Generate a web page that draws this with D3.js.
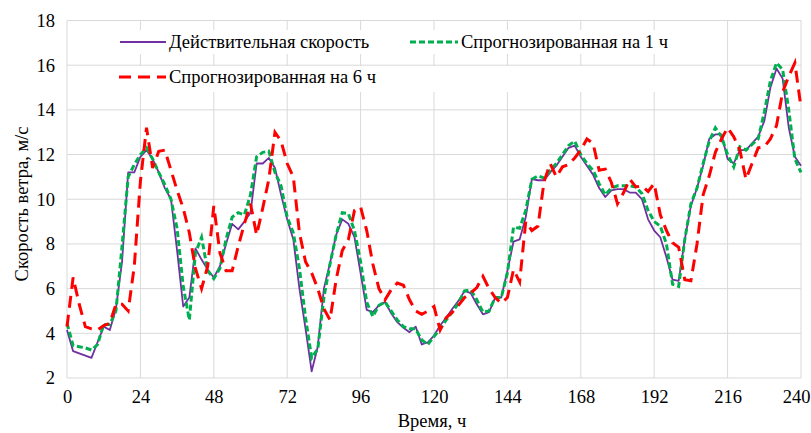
<!DOCTYPE html>
<html>
<head>
<meta charset="utf-8">
<script src="https://cdn.jsdelivr.net/npm/d3@7/dist/d3.min.js"></script>
<style>
  body { margin: 0; background: #fff; }
  svg text { font-family: "Liberation Serif", "Times New Roman", Times, "DejaVu Serif", serif !important; fill: #000; }
</style>
</head>
<body>
<script>
var W = 811, H = 433;
var margin = { top: 20.5, right: 10, bottom: 55, left: 67 };
var w = 734, h = 357.5;
var fontSize = "18.5px";

// hours (every 2 h)
var hours = d3.range(0, 241, 2);
var xTicks = [0, 24, 48, 72, 96, 120, 144, 168, 192, 216, 240];
var yTicks = [2, 4, 6, 8, 10, 12, 14, 16, 18];

// actual wind speed
var actual = [4.15, 3.2, 3.1, 3.0, 2.9, 3.6, 4.3, 4.15, 5.1, 7.2,
  11.2, 11.2, 11.9, 12.2, 11.8, 11.2, 10.5, 10.0, 7.7, 5.2,
  5.6, 7.8, 7.3, 6.85, 6.5, 7.0, 8.0, 8.9, 8.65, 9.0,
  9.4, 11.6, 11.6, 11.85, 11.4, 10.2, 9.1, 8.2, 6.0, 4.2,
  2.3, 3.4, 6.0, 7.15, 8.4, 9.1, 8.9, 8.3, 6.7, 5.05,
  4.95, 5.25, 5.4, 4.9, 4.5, 4.25, 4.05, 4.3, 3.5, 3.6,
  3.9, 4.35, 4.7, 5.1, 5.45, 5.9, 5.8, 5.3, 4.85, 4.95,
  5.6, 5.6, 6.8, 8.1, 8.2, 9.2, 10.9, 10.85, 10.85, 11.2,
  11.5, 11.9, 12.3, 12.4, 11.9, 11.5, 11.1, 10.5, 10.1, 10.4,
  10.45, 10.45, 10.3, 10.3, 10.0, 9.1, 8.6, 8.3, 7.4, 6.4,
  6.35, 8.2, 9.7, 10.5, 11.5, 12.7, 12.9, 12.9, 11.8, 11.6,
  12.2, 12.2, 12.5, 12.8, 13.5, 15.0, 15.85, 15.4, 13.2, 11.9,
  11.5];

// 1 h forecast
var fc1 = [4.45, 3.45, 3.4, 3.35, 3.25, 3.5, 4.4, 4.4, 5.0, 7.9,
  11.0, 11.55, 12.0, 12.3, 11.8, 11.2, 10.65, 10.0, 8.7, 6.1,
  4.6, 7.6, 8.3, 6.8, 6.45, 6.9, 8.2, 9.2, 9.4, 9.3,
  10.2, 11.9, 12.1, 12.15, 11.2, 10.6, 9.2, 8.5, 6.9, 4.7,
  2.9, 3.3, 5.6, 7.1, 8.4, 9.4, 9.35, 8.6, 7.2, 5.4,
  4.75, 5.25, 5.4, 5.0, 4.6, 4.3, 4.2, 4.2, 3.7, 3.5,
  3.85, 4.2, 4.6, 4.95, 5.35, 5.9, 5.95, 5.5, 4.95, 5.0,
  5.6, 5.6, 6.7, 8.75, 8.7, 9.5, 10.9, 11.05, 10.95, 11.3,
  11.6, 12.0, 12.4, 12.6, 12.0, 11.6, 11.3, 10.7, 10.2, 10.5,
  10.6, 10.6, 10.6, 10.55, 10.25, 9.5, 9.0, 8.8, 8.0, 6.2,
  6.1, 8.2, 9.8, 10.5, 11.6, 12.6, 13.2, 12.8, 12.0, 11.45,
  12.35, 12.2, 12.45, 12.7, 13.9, 15.3, 16.1, 15.8, 14.0, 11.8,
  11.2];

// 6 h forecast
var fc6 = [4.3, 6.5, 5.3, 4.3, 4.2, 4.15, 4.35, 4.45, 5.3, 5.3,
  5.0, 7.0, 10.8, 13.2, 11.4, 12.15, 12.2, 11.3, 10.4, 9.6,
  8.5, 6.9, 6.0, 7.0, 9.7, 7.6, 6.8, 6.8, 7.9, 8.9,
  9.8, 8.4, 9.6, 10.9, 13.0, 12.6, 11.6, 11.0, 8.5, 7.2,
  6.7, 6.0, 5.1, 4.6, 6.4, 7.7, 8.2, 9.5, 9.65, 8.6,
  7.1, 6.0, 5.5, 5.95, 6.25, 6.15, 5.5, 5.0, 4.85, 5.0,
  5.2, 4.15, 4.7, 4.95, 5.25, 5.6, 5.8, 6.05, 6.55, 6.0,
  5.6, 5.35, 5.6, 6.85, 6.3, 9.0, 8.6, 8.8, 10.8, 11.6,
  11.0, 11.45, 11.55, 11.85, 12.2, 12.7, 12.5, 11.3, 11.35, 10.75,
  9.8, 10.3, 10.9, 10.55, 10.6, 10.35, 10.7, 9.3, 8.6, 8.05,
  7.85, 6.4, 6.35, 8.0, 10.2, 11.05, 12.1, 12.7, 13.2, 12.8,
  12.2, 10.9, 11.6, 12.3, 12.35, 12.7, 13.3, 14.8, 15.5, 16.1,
  14.1];

var seriesNames = ["Действительная скорость", "Спрогнозированная на 1 ч", "Спрогнозированная на 6 ч"];
var seriesColors = ["#7030a0", "#00b050", "#ff0000"];

var svg = d3.select("body")
    .append("svg")
    .attr("width", W)
    .attr("height", H);

var g = svg.append("g")
    .attr("transform", "translate(" + margin.left + "," + margin.top + ")");

var xScale = d3.scaleLinear().domain([0, 240]).range([0, w]);
var yScale = d3.scaleLinear().domain([2, 18]).range([h, 0]);

// grid
g.selectAll(".hgrid")
    .data(yTicks)
    .enter()
    .append("line")
    .attr("x1", 0).attr("x2", w)
    .attr("y1", function (d) { return yScale(d); })
    .attr("y2", function (d) { return yScale(d); })
    .attr("stroke", "#d9d9d9")
    .attr("stroke-width", 1);

g.selectAll(".vgrid")
    .data(xTicks)
    .enter()
    .append("line")
    .attr("y1", 0).attr("y2", h)
    .attr("x1", function (d) { return xScale(d); })
    .attr("x2", function (d) { return xScale(d); })
    .attr("stroke", "#d9d9d9")
    .attr("stroke-width", 1);

// axes (labels only)
var xAxis = d3.axisBottom(xScale).tickValues(xTicks).tickSize(0).tickPadding(12);
var yAxis = d3.axisLeft(yScale).tickValues(yTicks).tickSize(0).tickPadding(12);

g.append("g")
    .attr("transform", "translate(0," + h + ")")
    .call(xAxis)
    .attr("font-family", null)
    .call(function (s) { s.select(".domain").remove(); })
    .selectAll("text")
    .style("font-size", fontSize)
    .attr("dx", function (d) { return d === 240 ? -5 : 0; })
    .attr("fill", "#000");

g.append("g")
    .call(yAxis)
    .attr("font-family", null)
    .call(function (s) { s.select(".domain").remove(); })
    .selectAll("text")
    .style("font-size", fontSize)
    .attr("fill", "#000");

// legend backgrounds
svg.append("rect").attr("x", 112).attr("y", 30).attr("width", 590).attr("height", 24).attr("fill", "#fff");
svg.append("rect").attr("x", 112).attr("y", 66).attr("width", 590).attr("height", 26).attr("fill", "#fff");

// lines
var line = d3.line()
    .x(function (d, i) { return xScale(hours[i]); })
    .y(function (d) { return yScale(d); });

g.append("path")
    .datum(actual)
    .attr("d", line)
    .attr("fill", "none")
    .attr("stroke", seriesColors[0])
    .attr("stroke-width", 1.8)
    .attr("stroke-linejoin", "round");

g.append("path")
    .datum(fc1)
    .attr("d", line)
    .attr("fill", "none")
    .attr("stroke", seriesColors[1])
    .attr("stroke-width", 3)
    .attr("stroke-dasharray", "6,3");

g.append("path")
    .datum(fc6)
    .attr("d", line)
    .attr("fill", "none")
    .attr("stroke", seriesColors[2])
    .attr("stroke-width", 3)
    .attr("stroke-dasharray", "12,7");

// legend
var legend = [
    { x: 120, y: 42, len: 46, dash: null, width: 1.8 },
    { x: 410, y: 42, len: 48, dash: "6,3", width: 3 },
    { x: 119, y: 77, len: 47, dash: "12,7", width: 3 }
];
legend.forEach(function (d, i) {
    svg.append("line")
        .attr("x1", d.x).attr("x2", d.x + d.len)
        .attr("y1", d.y).attr("y2", d.y)
        .attr("stroke", seriesColors[i])
        .attr("stroke-width", d.width)
        .attr("stroke-dasharray", d.dash);
    svg.append("text")
        .attr("x", d.x + d.len + 3)
        .attr("y", d.y)
        .attr("dy", "0.35em")
        .style("font-size", fontSize)
        .text(seriesNames[i]);
});

// axis titles
svg.append("text")
    .attr("x", margin.left + w / 2 - 2)
    .attr("y", 427)
    .attr("text-anchor", "middle")
    .style("font-size", fontSize)
    .text("Время, ч");

svg.append("text")
    .attr("transform", "translate(28,204) rotate(-90)")
    .attr("text-anchor", "middle")
    .style("font-size", fontSize)
    .text("Скорость ветра, м/с");
</script>
</body>
</html>
